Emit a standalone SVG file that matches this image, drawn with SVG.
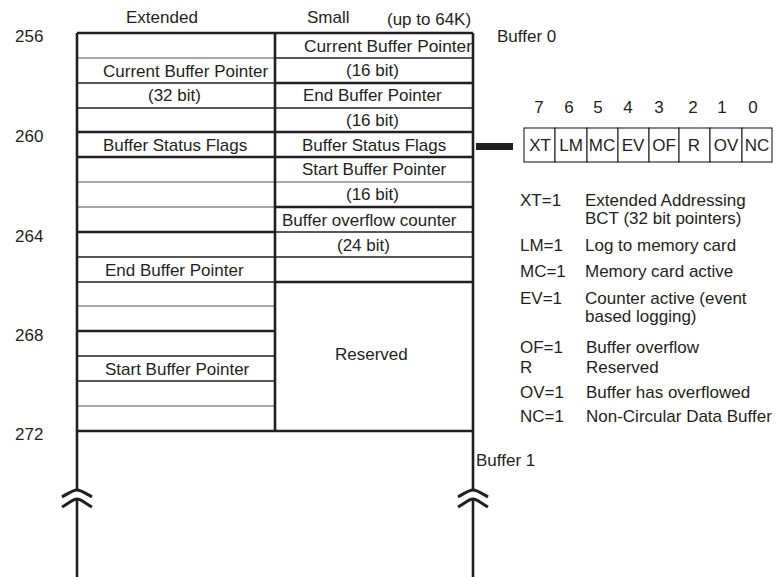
<svg xmlns="http://www.w3.org/2000/svg" width="777" height="577" viewBox="0 0 777 577">
<style>
text{font-family:"Liberation Sans",Arial,sans-serif;font-size:17px;fill:#231f20}
.thick{stroke:#231f20;stroke-width:2.6;fill:none}
.thin{stroke:#231f20;stroke-width:1.3;fill:none}
.grey{stroke:#8a8a8a;stroke-width:1.6;fill:none}
.brk{stroke:#231f20;stroke-width:3;fill:none}
.cell{stroke:#231f20;stroke-width:1.1;fill:#fff}
.mid{text-anchor:middle}
</style>
<rect width="777" height="577" fill="#fff"/>
<g id="headers">
<text x="126" y="23">Extended</text>
<text x="307" y="23">Small</text>
<text x="387" y="25">(up to 64K)</text>
<text x="497" y="42">Buffer 0</text>
<text x="476" y="466">Buffer 1</text>
</g>
<g id="addresses">
<text x="15" y="42">256</text>
<text x="15" y="142">260</text>
<text x="15" y="242">264</text>
<text x="15" y="341">268</text>
<text x="15" y="440">272</text>
</g>
<g id="extended-column">
<line class="grey" x1="77" y1="58" x2="275" y2="58"/>
<line class="thin" x1="77" y1="83" x2="275" y2="83"/>
<line class="thin" x1="77" y1="108" x2="275" y2="108"/>
<line class="thick" x1="77" y1="132" x2="275" y2="132"/>
<line class="thick" x1="77" y1="157" x2="275" y2="157"/>
<line class="grey" x1="77" y1="182" x2="275" y2="182"/>
<line class="grey" x1="77" y1="207" x2="275" y2="207"/>
<line class="thick" x1="77" y1="232" x2="275" y2="232"/>
<line class="thin" x1="77" y1="257" x2="275" y2="257"/>
<line class="thin" x1="77" y1="282" x2="275" y2="282"/>
<line class="grey" x1="77" y1="306" x2="275" y2="306"/>
<line class="thick" x1="77" y1="331" x2="275" y2="331"/>
<line class="thin" x1="77" y1="356" x2="275" y2="356"/>
<line class="thin" x1="77" y1="381" x2="275" y2="381"/>
<line class="grey" x1="77" y1="406" x2="275" y2="406"/>
<text x="103" y="77">Current Buffer Pointer</text>
<text x="148" y="101">(32 bit)</text>
<text x="103" y="151">Buffer Status Flags</text>
<text x="105" y="276">End Buffer Pointer</text>
<text x="105" y="375">Start Buffer Pointer</text>
</g>
<g id="small-column">
<line class="thin" x1="275" y1="58" x2="473" y2="58"/>
<line class="thick" x1="275" y1="83" x2="473" y2="83"/>
<line class="thin" x1="275" y1="108" x2="473" y2="108"/>
<line class="thick" x1="275" y1="132" x2="473" y2="132"/>
<line class="thick" x1="275" y1="157" x2="473" y2="157"/>
<line class="grey" x1="275" y1="182" x2="473" y2="182"/>
<line class="thick" x1="275" y1="207" x2="473" y2="207"/>
<line class="thin" x1="275" y1="232" x2="473" y2="232"/>
<line class="thin" x1="275" y1="257" x2="473" y2="257"/>
<line class="thick" x1="275" y1="282" x2="473" y2="282"/>
<text x="304" y="52" textLength="168" lengthAdjust="spacingAndGlyphs">Current Buffer Pointer</text>
<text x="346" y="76">(16 bit)</text>
<text x="303" y="101">End Buffer Pointer</text>
<text x="346" y="126">(16 bit)</text>
<text x="302" y="151">Buffer Status Flags</text>
<text x="302" y="175">Start Buffer Pointer</text>
<text x="346" y="200">(16 bit)</text>
<text x="282" y="226">Buffer overflow counter</text>
<text x="337" y="251">(24 bit)</text>
<text x="335" y="360">Reserved</text>
</g>
<g id="frame">
<line class="thick" x1="77" y1="33" x2="473" y2="33"/>
<line class="thick" x1="77" y1="431" x2="473" y2="431"/>
<line class="thick" x1="77" y1="33" x2="77" y2="490"/>
<line class="thick" x1="77" y1="499" x2="77" y2="577"/>
<line class="thick" x1="473" y1="33" x2="473" y2="490"/>
<line class="thick" x1="473" y1="499" x2="473" y2="577"/>
<line class="thick" x1="275" y1="33" x2="275" y2="431"/>
<path class="brk" d="M62,497 C69,493 73,490 77,490 C81,490 85,493 92,497"/>
<path class="brk" d="M62,507 C69,503 73,499 77,499 C81,499 85,503 92,507"/>
<path class="brk" d="M458,497 C465,493 469,490 473,490 C477,490 481,493 488,497"/>
<path class="brk" d="M458,507 C465,503 469,499 473,499 C477,499 481,503 488,507"/>
</g>
<g id="connectors">
<rect x="476" y="143" width="37" height="7" fill="#231f20"/>
</g>
<g id="status-byte">
<g class="mid">
<text x="539" y="113">7</text>
<text x="569" y="113">6</text>
<text x="598" y="113">5</text>
<text x="628" y="113">4</text>
<text x="659" y="113">3</text>
<text x="693" y="113">2</text>
<text x="722" y="113">1</text>
<text x="753" y="113">0</text>
</g>
<rect class="cell" x="524" y="128" width="31" height="34"/>
<rect class="cell" x="555" y="128" width="32" height="34"/>
<rect class="cell" x="587" y="128" width="31" height="34"/>
<rect class="cell" x="618" y="128" width="31" height="34"/>
<rect class="cell" x="649" y="128" width="30" height="34"/>
<rect class="cell" x="679" y="128" width="31" height="34"/>
<rect class="cell" x="710" y="128" width="32" height="34"/>
<rect class="cell" x="742" y="128" width="30" height="34"/>
<g class="mid">
<text x="540" y="151">XT</text>
<text x="571" y="151">LM</text>
<text x="602" y="151">MC</text>
<text x="633" y="151">EV</text>
<text x="664" y="151">OF</text>
<text x="694" y="151">R</text>
<text x="726" y="151">OV</text>
<text x="757" y="151">NC</text>
</g>
</g>
<g id="legend">
<text x="520" y="206">XT=1</text><text x="585" y="206">Extended Addressing</text>
<text x="585" y="224">BCT (32 bit pointers)</text>
<text x="520" y="251">LM=1</text><text x="585" y="251">Log to memory card</text>
<text x="520" y="277">MC=1</text><text x="585" y="277">Memory card active</text>
<text x="520" y="304">EV=1</text><text x="585" y="304">Counter active (event</text>
<text x="585" y="322">based logging)</text>
<text x="520" y="353">OF=1</text><text x="586" y="353">Buffer overflow</text>
<text x="520" y="373">R</text><text x="586" y="373">Reserved</text>
<text x="520" y="398">OV=1</text><text x="586" y="398">Buffer has overflowed</text>
<text x="520" y="422">NC=1</text><text x="586" y="422">Non-Circular Data Buffer</text>
</g>
</svg>
